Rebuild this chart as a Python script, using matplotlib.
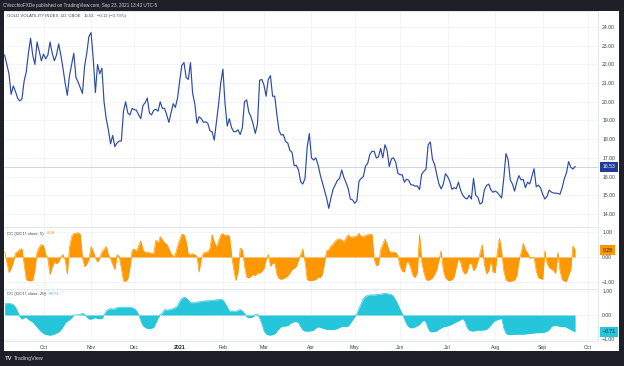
import matplotlib.pyplot as plt
import numpy as np
from matplotlib.patches import Rectangle

plt.rcParams['font.family'] = ['Liberation Sans', 'DejaVu Sans']

# GOLD VOLATILITY INDEX (GVZ), daily closes, Sep 2020 - Sep 23 2021
gvz = [
    22.5, 22.0, 21.5, 20.4, 20.85, 20.55, 20.2, 20.05, 20.15, 21.1,
    21.6, 22.6, 23.4, 22.5, 22.0, 23.2, 22.7, 22.2, 22.55, 22.3,
    22.5, 23.2, 22.6, 22.2, 22.5, 23.1, 22.5, 21.8, 21.0, 20.35,
    21.4, 22.0, 22.6, 21.3, 21.05, 20.75, 20.45, 21.9, 22.6, 23.5,
    23.7, 22.3, 20.5, 22.0, 21.5, 21.8, 20.0, 19.1, 18.5, 17.75,
    18.2, 17.6, 17.8, 17.9, 17.9, 19.5, 20.0, 19.4, 19.3, 19.65,
    19.58, 19.55, 19.3, 19.1, 19.8, 19.95, 20.2, 19.4, 19.3, 19.55,
    19.6, 19.5, 20.0, 19.65, 19.65, 19.3, 18.9, 19.4, 19.9, 19.7,
    20.2, 21.1, 21.95, 22.1, 21.3, 21.2, 22.1, 20.45, 19.9, 18.85,
    19.2, 19.1, 18.9, 18.93, 18.85, 18.45, 18.4, 17.95, 18.9, 19.85,
    21.0, 21.75, 19.9, 18.7, 19.1, 18.62, 18.4, 18.4, 18.5, 18.25,
    18.6, 20.0, 20.1, 19.45, 19.2, 18.8, 18.31, 18.8, 21.15, 21.2,
    20.9, 20.3, 21.2, 21.4, 20.3, 20.3, 19.3, 18.45, 18.22, 18.25,
    17.87, 17.8, 17.4, 17.3, 16.58, 16.6, 16.35, 15.72, 15.6, 15.9,
    17.55, 18.3, 17.0, 16.88, 17.0, 16.65, 16.12, 15.7, 15.3, 14.85,
    14.3, 14.85, 15.32, 15.55, 15.8, 15.9, 16.35, 15.95, 15.67, 15.35,
    14.79, 14.75, 14.57, 14.7, 15.76, 15.9, 16.0, 16.56, 16.7, 17.18,
    17.35, 17.35, 17.0, 17.05, 17.5, 17.0, 17.7, 17.4, 16.53, 16.95,
    17.0, 16.75, 16.17, 16.1, 16.09, 15.7, 15.86, 15.8, 15.56, 15.55,
    15.48, 15.5, 15.3, 16.13, 16.28, 16.4, 17.7, 17.85, 16.92, 16.65,
    16.1, 15.6, 15.34, 15.6, 16.15, 16.0, 15.75, 15.32, 15.4, 15.35,
    15.7, 15.27, 15.0, 14.86, 14.8, 15.0, 14.8, 15.9, 15.0, 14.9,
    14.53, 14.6, 15.27, 15.52, 15.6, 15.3, 15.16, 15.22, 15.15, 15.0,
    14.85, 15.9, 17.23, 16.9, 15.82, 15.6, 15.22, 15.7, 16.05, 15.82,
    15.85, 15.4, 15.7, 15.6, 16.0, 16.42, 15.45, 15.54, 15.4, 15.05,
    14.8, 14.93, 15.28, 15.17, 15.12, 15.11, 15.1, 15.05, 15.4, 15.88,
    16.2, 16.8, 16.5, 16.4, 16.53,
]

# CC (GC1!, close, 5)
cc5 = [
    0.21, -0.2, -0.62, -0.45, -0.2, 0.15, 0.22, 0.3, 0.33, -0.3,
    -0.9, -0.95, -0.95, -0.93, -0.5, 0.2, 0.39, 0.5, 0.45, 0.1,
    -0.08, -0.7, -0.4, -0.2, -0.26, -0.19, 0.01, 0.1, -0.12, -0.69,
    0.38, 0.82, 0.94, 0.95, 0.97, 0.91, -0.04, -0.38, -0.28, -0.08,
    0.42, 0.23, -0.04, -0.2, -0.05, 0.2, 0.31, 0.42, 0.08, -0.06,
    -0.3, -0.5, 0.1, 0.02, -0.45, -0.95, -0.97, -0.87, -0.4, 0.28,
    0.32, 0.22, 0.45, 0.65, 0.28, 0.18, 0.19, 0.17, 0.14, 0.16,
    0.67, 0.55, 0.82, 0.69, 0.57, 0.51, 0.33, 0.14, 0.01, 0.1,
    0.42, 0.68, 0.92, 0.89, 0.62, 0.1, 0.11, 0.13, 0.1, 0.02,
    -0.6, -0.05, 0.15, 0.2, 0.2, 0.35, 0.9, 0.6, 0.4, 0.62,
    0.88, 0.94, 0.85, 0.88, 0.84, 0.1, -0.5, -0.94, -0.6, 0.35,
    0.3, -0.35, -0.8, -0.84, -0.76, -0.69, -0.75, -0.63, -0.65, -0.57,
    -0.47, -0.1, 0.1, -0.36, -0.25, -0.22, -0.7, -0.86, -0.89, -0.86,
    -0.81, -0.75, -0.64, -0.5, -0.45, -0.37, -0.12, 0.1, 0.32, -0.2,
    -0.9, -0.95, -0.94, -0.92, -0.9, -0.8, -0.83, -0.7, -0.25, 0.25,
    0.29, 0.44, 0.52, 0.63, 0.71, 0.73, 0.68, 0.6, 0.76, 0.88,
    0.8, 0.8, 0.82, 0.85, 0.95, 0.81, 0.83, 0.86, 0.89, 0.9,
    0.91, -0.08, -0.35, -0.3, 0.29, 0.5, 0.72, 0.5, 0.22, 0.2,
    0.19, 0.18, 0.05, -0.38, -0.57, -0.6, -0.2, -0.2, -0.45, -0.75,
    -0.82, -0.6, 0.9, -0.2, -0.6, -0.9, -0.94, -0.89, -0.83, -0.68,
    -0.5, -0.1, 0.25, -0.55, -0.82, -0.92, -0.95, -0.9, -0.8, -0.4,
    -0.05, -0.2, -0.55, -0.68, -0.6, -0.25, -0.25, -0.55, -0.42, -0.17,
    0.15, 0.5, -0.3, -0.67, -0.55, -0.1, -0.6, -0.62, 0.2, 0.75,
    0.2, -0.55, -0.91, -0.97, -0.97, -0.95, -0.92, -0.75, -0.15, 0.17,
    0.55, 0.27, 0.17, -0.05, -0.02, 0.0, -0.55, -0.83, -0.86, -0.89,
    0.25, -0.25, -0.42, -0.48, -0.54, -0.66, 0.2, -0.55, -0.9, -0.96,
    -0.98, -0.72, -0.49, 0.45, 0.28,
]

# CC (GC1!, close, 20)
cc20 = [
    0.47, 0.49, 0.5, 0.47, 0.44, 0.32, 0.14, -0.07, -0.17, -0.12,
    -0.09, -0.19, -0.24, -0.3, -0.4, -0.51, -0.62, -0.71, -0.78, -0.82,
    -0.84, -0.85, -0.84, -0.8, -0.76, -0.71, -0.63, -0.5, -0.33, -0.26,
    -0.2, -0.12, 0.0, 0.0, 0.01, 0.04, 0.06, 0.04, -0.08, -0.17,
    -0.17, -0.15, -0.1, -0.16, -0.15, -0.16, 0.0, 0.17, 0.23, 0.27,
    0.25, 0.26, 0.31, 0.32, 0.33, 0.33, 0.33, 0.33, 0.33, 0.31,
    0.27, 0.17, 0.02, -0.24, -0.45, -0.52, -0.57, -0.57, -0.56, -0.52,
    -0.32, -0.12, 0.01, 0.08, 0.23, 0.21, 0.22, 0.24, 0.27, 0.31,
    0.38, 0.57, 0.7, 0.75, 0.72, 0.62, 0.52, 0.52, 0.52, 0.54,
    0.56, 0.57, 0.59, 0.6, 0.6, 0.61, 0.62, 0.63, 0.64, 0.65,
    0.67, 0.63, 0.5, 0.34, 0.16, 0.17, 0.16, 0.15, 0.2, 0.23,
    0.17, 0.06, -0.07, -0.11, -0.11, -0.07, 0.03, 0.03, -0.12, -0.36,
    -0.66, -0.8, -0.84, -0.85, -0.83, -0.79, -0.69, -0.57, -0.49, -0.47,
    -0.47, -0.45, -0.37, -0.31, -0.28, -0.28, -0.32, -0.5, -0.63, -0.68,
    -0.68, -0.68, -0.66, -0.64, -0.55, -0.5, -0.52, -0.55, -0.58, -0.61,
    -0.61, -0.61, -0.61, -0.6, -0.57, -0.52, -0.49, -0.47, -0.5, -0.46,
    -0.35, -0.2, -0.08, 0.05, 0.28, 0.49, 0.69, 0.78, 0.83, 0.85,
    0.85, 0.85, 0.86, 0.87, 0.88, 0.9, 0.92, 0.9, 0.88, 0.86,
    0.78, 0.62, 0.44, 0.23, 0.05, -0.17, -0.38, -0.5, -0.54, -0.54,
    -0.5, -0.45, -0.4, -0.29, -0.21, -0.32, -0.57, -0.71, -0.71, -0.7,
    -0.67, -0.6, -0.55, -0.5, -0.48, -0.46, -0.43, -0.39, -0.34, -0.29,
    -0.25, -0.2, -0.15, -0.27, -0.52, -0.64, -0.67, -0.68, -0.66, -0.64,
    -0.64, -0.64, -0.63, -0.61, -0.53, -0.43, -0.3, -0.24, -0.2, -0.17,
    -0.14, -0.55, -0.78, -0.82, -0.82, -0.82, -0.81, -0.81, -0.81, -0.81,
    -0.81, -0.8, -0.79, -0.78, -0.77, -0.76, -0.75, -0.75, -0.75, -0.74,
    -0.72, -0.68, -0.62, -0.49, -0.45, -0.43, -0.46, -0.48, -0.5, -0.48,
    -0.52, -0.57, -0.62, -0.66, -0.71,
]

# first session of each month (bar index) and its label
month_bars = [18, 40, 60, 81, 101, 120, 142, 162, 183, 205, 227, 249, 270]
month_labels = ['Oct', 'Nov', 'Dec', '2021', 'Feb', 'Mar', 'Apr', 'May',
                'Jun', 'Jul', 'Aug', 'Sep', 'Oct']
price_ticks = [14, 15, 16, 17, 18, 19, 20, 21, 22, 23, 24]
osc_ticks = [-1, 0, 1]

last_price = 16.53
change_txt = '\u22120.12 (\u22120.73%)'

BLUE = '#2d4aa6'
ORANGE = '#ff9800'
CYAN = '#26c6da'
DARK = '#1e2029'
GRID = '#f0f3fa'
SEP = '#e0e3eb'
TXT = '#3a3e4a'

W, H = 624, 366


def px_box(x0, y0, x1, y1):
    return [x0 / W, 1 - y1 / H, (x1 - x0) / W, (y1 - y0) / H]


fig = plt.figure(figsize=(W / 100, H / 100), dpi=100, facecolor=DARK)
fig.patches.append(Rectangle((4 / W, 1 - 351 / H), 615 / W, 340 / H,
                             transform=fig.transFigure, facecolor='white',
                             edgecolor='none', zorder=-10))

ax1 = fig.add_axes(px_box(4, 11, 598, 227))
ax2 = fig.add_axes(px_box(4, 227, 598, 289))
ax3 = fig.add_axes(px_box(4, 289, 598, 341))

x = np.arange(len(gvz))

for ax in (ax1, ax2, ax3):
    ax.set_facecolor('white')
    ax.set_xlim(-0.3, 274.6)
    ax.set_xticks(month_bars)
    ax.grid(True, color=GRID, linewidth=0.6)
    ax.set_axisbelow(True)
    ax.yaxis.tick_right()
    ax.tick_params(axis='both', length=0, labelsize=3.7, colors=TXT, pad=3)
    for side, sp in ax.spines.items():
        sp.set_color(SEP)
        sp.set_linewidth(0.6)
    ax.spines['left'].set_visible(False)

ax1.tick_params(axis='x', labelbottom=False)
ax2.tick_params(axis='x', labelbottom=False)

# main pane
ax1.plot(x, gvz, color=BLUE, linewidth=0.85)
ax1.axhline(last_price, color='#c5cce6', linewidth=0.6, zorder=1)
ax1.set_ylim(13.3, 24.86)
ax1.set_yticks(price_ticks)
ax1.set_yticklabels(['%.2f' % v for v in price_ticks])

# oscillators
ax2.fill_between(x, cc5, 0, color=ORANGE, linewidth=0)
ax2.plot(x, cc5, color=ORANGE, linewidth=0.5)
ax2.set_ylim(-1.28, 1.2)
ax3.fill_between(x, cc20, 0, color=CYAN, linewidth=0)
ax3.plot(x, cc20, color=CYAN, linewidth=0.5)
ax3.set_ylim(-1.1, 1.1)
for ax in (ax2, ax3):
    ax.set_yticks(osc_ticks)
    ax.set_yticklabels(['%.2f' % v if v >= 0 else '\u2212%.2f' % -v for v in osc_ticks])

ax3.set_xticklabels(month_labels)
for lab in ax3.get_xticklabels():
    if lab.get_text() == '2021':
        lab.set_fontweight('bold')
        lab.set_color('#131722')


# last value tags on the price scale
def tag(ax, val, text, fc, tc):
    ax.text(1.008, val, text, transform=ax.get_yaxis_transform(),
            ha='left', va='center', fontsize=3.7, color=tc, zorder=5,
            bbox=dict(boxstyle='square,pad=0.5', fc=fc, ec='none'),
            clip_on=False)


tag(ax1, last_price, '%.2f' % last_price, '#1f3c9a', 'white')
tag(ax2, cc5[-1], '%.2f' % cc5[-1], ORANGE, '#131722')
tag(ax3, cc20[-1], '\u2212%.2f' % -cc20[-1], CYAN, '#131722')

renderer = fig.canvas.get_renderer()


def legend_row(px, py, parts, size=3.05):
    # parts: list of (text, colour); each piece starts after the previous
    cur = px / W
    for s, c in parts:
        t = fig.text(cur, 1 - py / H, s, va='center', ha='left',
                     fontsize=size, color=c)
        bb = t.get_window_extent(renderer)
        cur = (bb.x1 + 3) / W


legend_row(7, 16, [('GOLD VOLATILITY INDEX, 1D, CBOE', TXT),
                   ('%.2f' % last_price, BLUE), (change_txt, BLUE)])
legend_row(7, 233.5, [('CC (GC1!, close, 5)', TXT), ('%.2f' % cc5[-1], ORANGE)])
legend_row(7, 294, [('CC (GC1!, close, 20)', TXT),
                    ('\u2212%.2f' % -cc20[-1], CYAN)])

# frame texts
fig.text(3 / W, 1 - 5.5 / H,
         'CVecchioFXDe published on TradingView.com, Sep 23, 2021 13:43 UTC-5',
         va='center', ha='left', fontsize=3.3, color='#d1d4dc')
fig.text(5 / W, 1 - 358.5 / H, 'TV', va='center', ha='left', fontsize=4.2,
         color='#d1d4dc', fontweight='bold')
fig.text(13.5 / W, 1 - 358.5 / H, 'TradingView', va='center', ha='left',
         fontsize=3.9, color='#d1d4dc')

fig.savefig('out.png', dpi=100, facecolor=DARK)
